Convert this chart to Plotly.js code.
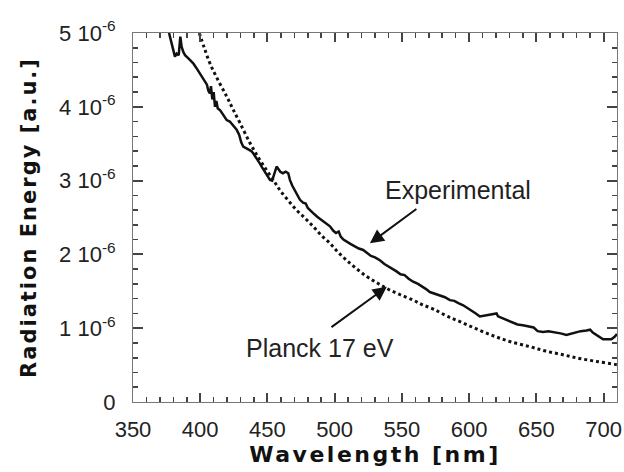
<!DOCTYPE html>
<html>
<head>
<meta charset="utf-8">
<script src="https://cdn.plot.ly/plotly-3.0.1.min.js"></script>
<style>
html,body{margin:0;padding:0;background:#fff;}
#chart{width:624px;height:472px;}
.x2title{letter-spacing:2.5px;}
.y2title{letter-spacing:2px;}
</style>
</head>
<body>
<div id="chart"></div>
<script>
// Wavelength [nm] and radiation energy (in units of 1e-6 a.u.)
const expWavelength = [376.8,378.5,380,381.2,382.5,384,385.2,386.2,387.5,388.7,391,393,394.8,397,399,401,403,405,406,407.2,408,409,410,411,412,413,415,417,419.7,422,424,427.1,429,430.5,432,434,436,438,439.4,441,442.5,444.4,446,448,450,451.9,453.5,455,456.8,458,459.5,461.5,463.5,465.5,466.7,468.5,470.5,472.5,474.2,476.5,478.5,480,482,484,487,490,493,496.5,499,501,503,504.5,506.5,508.9,512,515,518,521.2,524,527,530,533.6,537,540,543,546,549,552,555,558.4,562,565,568,570.8,574,578,582,585.7,589,592,595.6,599,602,605,608,611,614,617,620.4,621.5,624,628,632.7,636,640,645.1,648,651,655,659,662,665,668,672.4,676,679.8,683,687.3,690,692,694.7,697,699.6,703,705.8,708,710];
const expEnergy = [5.00,4.88,4.76,4.68,4.72,4.70,4.95,4.81,4.74,4.70,4.66,4.62,4.59,4.53,4.47,4.41,4.35,4.30,4.22,4.18,4.28,4.10,4.20,4.00,4.08,3.98,3.95,3.90,3.82,3.80,3.76,3.69,3.62,3.52,3.46,3.44,3.42,3.40,3.37,3.33,3.29,3.23,3.18,3.12,3.06,3.01,3.00,3.08,3.19,3.16,3.12,3.10,3.12,3.10,3.01,2.93,2.86,2.79,2.74,2.70,2.69,2.63,2.60,2.56,2.51,2.47,2.42,2.38,2.32,2.29,2.31,2.24,2.20,2.17,2.14,2.11,2.08,2.06,2.02,1.98,1.96,1.92,1.87,1.84,1.81,1.77,1.73,1.72,1.67,1.63,1.60,1.57,1.53,1.49,1.47,1.44,1.42,1.38,1.37,1.34,1.31,1.27,1.24,1.20,1.16,1.17,1.18,1.18,1.20,1.16,1.14,1.11,1.07,1.05,1.04,1.02,1.01,0.96,0.95,0.96,0.95,0.95,0.93,0.91,0.93,0.95,0.96,0.97,0.98,0.94,0.91,0.88,0.85,0.85,0.85,0.88,0.92];

const planckWavelength = [399.3,403,407.2,413,419.7,424,429.6,437,443,449.4,455,459.3,465.5,471.7,478,484,490,496.5,502.5,508.9,516,523.8,531,538.6,548,558.4,565,573.3,584,595.6,608,620.4,632,645.1,657,669.9,682,694.7,708.4,710];
const planckEnergy = [5.00,4.80,4.59,4.37,4.14,3.98,3.78,3.51,3.32,3.14,2.99,2.87,2.73,2.60,2.49,2.38,2.26,2.15,2.03,1.92,1.81,1.70,1.62,1.54,1.46,1.38,1.32,1.26,1.16,1.07,0.97,0.88,0.81,0.75,0.69,0.64,0.59,0.55,0.51,0.505];

const xTicks = [350,400,450,500,550,600,650,700];
const yTickVals = [0,1,2,3,4,5];
const yTickText = ["0","1 10<sup>-6</sup>","2 10<sup>-6</sup>","3 10<sup>-6</sup>","4 10<sup>-6</sup>","5 10<sup>-6</sup>"];
const xRange = [350, 710];
const yRange = [0, 5];

const traces = [
  {x: expWavelength, y: expEnergy, mode: 'lines', type: 'scatter',
   line: {color: '#111', width: 2.5}, name: 'Experimental'},
  {x: planckWavelength, y: planckEnergy, mode: 'lines', type: 'scatter',
   line: {color: '#111', width: 3, dash: 'dot', shape: 'spline'}, name: 'Planck 17 eV'},
  // invisible copy so the label-only overlay axes get drawn
  {x: planckWavelength, y: planckEnergy, xaxis: 'x2', yaxis: 'y2', mode: 'lines', type: 'scatter', opacity: 0, hoverinfo: 'skip'}
];

const tickFont = {family: 'Liberation Sans, Arial, sans-serif', size: 22, color: '#222'};
const tc = '#444';
const none = 'rgba(0,0,0,0)';
const titleFont = {family: 'DejaVu Sans', color: '#111', weight: 'bold'};

const layout = {
  width: 624, height: 472,
  margin: {l: 133, r: 7, t: 33, b: 70},
  paper_bgcolor: '#fff', plot_bgcolor: none,
  showlegend: false,
  // tick marks (inside, mirrored on all four sides)
  xaxis: {
    range: xRange, tickvals: xTicks, ticks: 'inside', ticklen: 9, tickcolor: tc, tickwidth: 2,
    showline: true, linecolor: '#777', mirror: 'allticks', gridcolor: none,
    showticklabels: false,
    minor: {dtick: 10, tick0: 350, ticks: 'inside', ticklen: 5, tickcolor: tc, tickwidth: 1.6, gridcolor: none}
  },
  yaxis: {
    range: yRange, tickvals: yTickVals, ticks: 'inside', ticklen: 10, tickcolor: tc, tickwidth: 2,
    showline: true, linecolor: '#777', mirror: 'allticks', gridcolor: none, zerolinecolor: '#777',
    showticklabels: false,
    minor: {dtick: 0.2, tick0: 0, ticks: 'inside', ticklen: 5, tickcolor: tc, tickwidth: 1.6, gridcolor: none}
  },
  // tick labels and titles
  xaxis2: {
    overlaying: 'x', side: 'bottom', anchor: 'y2', range: xRange, tickvals: xTicks,
    ticks: 'outside', ticklen: 8, tickcolor: none,
    showline: false, showgrid: false, zeroline: false, tickfont: tickFont,
    title: {text: 'Wavelength [nm]', standoff: 4, font: Object.assign({size: 22}, titleFont)}
  },
  yaxis2: {
    overlaying: 'y', side: 'left', anchor: 'x2', range: yRange, tickvals: yTickVals, ticktext: yTickText,
    ticks: 'outside', ticklen: 12, tickcolor: none,
    showline: false, showgrid: false, zeroline: false, tickfont: tickFont,
    title: {text: 'Radiation Energy [a.u.]', standoff: 16, font: Object.assign({size: 21}, titleFont)}
  },
  annotations: [
    {x: 526.2, y: 2.15, ax: 561.9, ay: 2.63, xref: 'x', yref: 'y', axref: 'x', ayref: 'y',
     showarrow: true, arrowhead: 2, arrowsize: 1.4, arrowwidth: 2, arrowcolor: '#111', text: ''},
    {x: 538.8, y: 1.56, ax: 496.5, ay: 1.00, xref: 'x', yref: 'y', axref: 'x', ayref: 'y',
     showarrow: true, arrowhead: 2, arrowsize: 1.4, arrowwidth: 2, arrowcolor: '#111', text: ''},
    {x: 591.6, y: 2.87, xref: 'x', yref: 'y', showarrow: false, text: 'Experimental',
     font: {family: 'Liberation Sans, Arial, sans-serif', size: 25, color: '#222'}},
    {x: 489, y: 0.73, xref: 'x', yref: 'y', showarrow: false, text: 'Planck 17 eV',
     font: {family: 'Liberation Sans, Arial, sans-serif', size: 25, color: '#222'}}
  ]
};

Plotly.newPlot('chart', traces, layout, {staticPlot: true, displayModeBar: false});
</script>
</body>
</html>
